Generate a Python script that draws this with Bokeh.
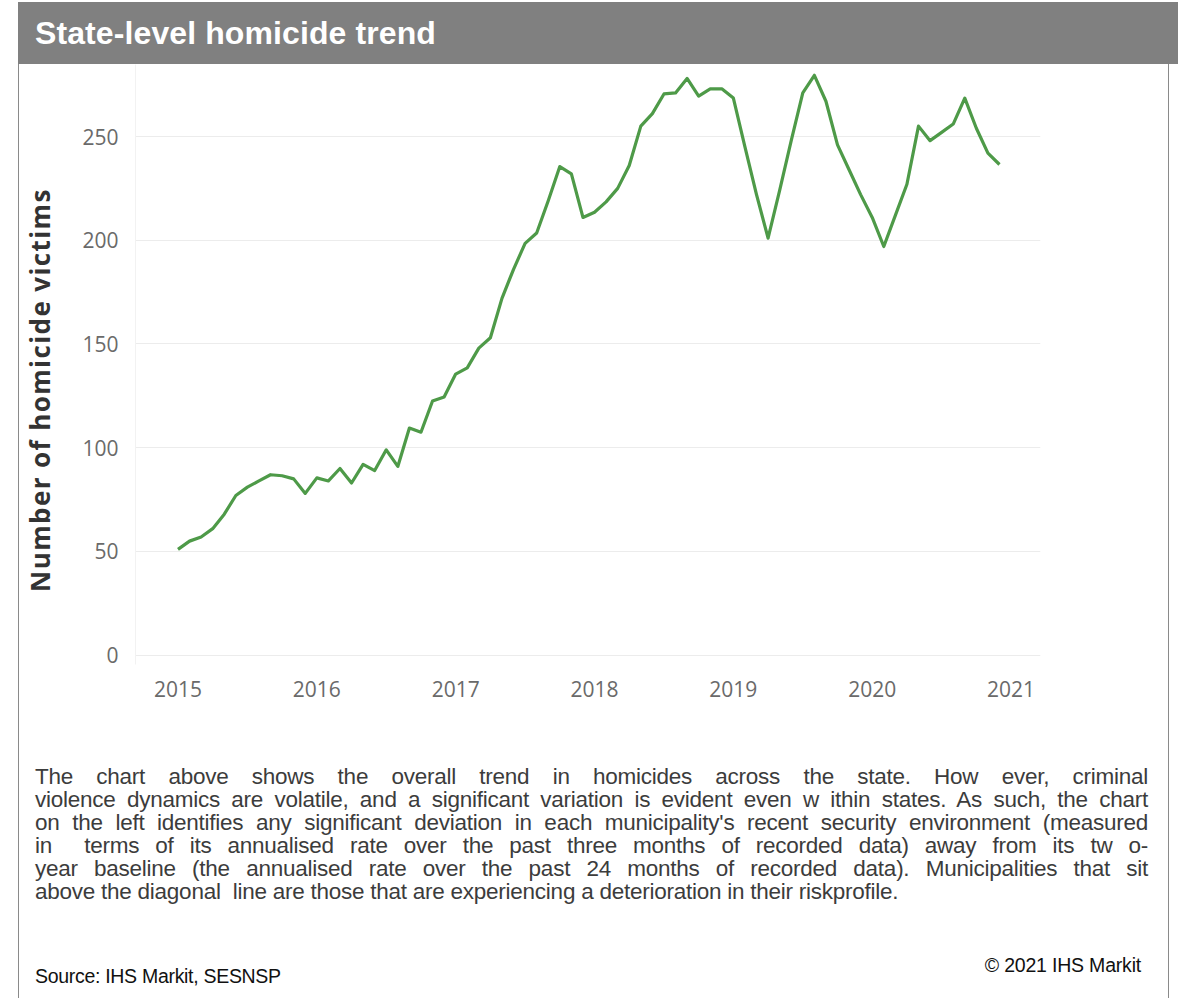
from bokeh.plotting import figure
from bokeh.models import Div, FixedTicker, Range1d
from bokeh.layouts import column, row
from bokeh.embed import file_html
from bokeh.resources import INLINE

# ---- data ----
title_text = "State-level homicide trend"
y_label = "Number of homicide victims"
year_ticks = [2015, 2016, 2017, 2018, 2019, 2020, 2021]
y_ticks = [0, 50, 100, 150, 200, 250]
month_index = list(range(72))  # monthly, Jan 2015 .. Dec 2020
victims = [
    51, 55, 57, 61, 68, 77, 81, 84, 87, 86.5, 85, 78,
    85.5, 84, 90, 83, 92, 89, 99, 91, 109.5, 107.5, 122.5, 124.5,
    135.5, 138.5, 148, 153, 172, 186, 198.5, 203.5, 219, 235.5, 232, 211,
    213.5, 218.5, 225, 236, 255, 261, 270.5, 271, 278, 269.5, 273, 273,
    268.5, 245, 222, 201, 224, 248, 271, 279.5, 267, 246, 234, 222,
    211, 197, 212, 227, 255, 248, 252, 256, 268.5, 254, 242, 236.5,
]
paragraph_lines = [
    "The chart above shows the overall trend in homicides across the state. How ever, criminal",
    "violence dynamics are volatile, and a significant variation is evident even w ithin states. As such, the chart",
    "on the left identifies any significant deviation in each municipality's recent security environment (measured",
    "in &nbsp;terms of its annualised rate over the past three months of recorded data) away from its tw o-",
    "year baseline (the annualised rate over the past 24 months of recorded data). Municipalities that sit",
    "above the diagonal &nbsp;line are those that are experiencing a deterioration in their riskprofile.",
]
source_text = "Source: IHS Markit, SESNSP"
copyright_text = "\u00a9 2021 IHS Markit"

x = [year_ticks[0] + m / 12 for m in month_index]

SANS = "'Liberation Sans',Arial,sans-serif"

header = Div(
    text=('<div style="width:1160px;height:62px;background:#808080;color:#ffffff;'
          'font-family:%s;font-weight:bold;font-size:32px;letter-spacing:0.1px;'
          'line-height:62px;padding-left:17px;box-sizing:border-box;white-space:nowrap;">%s</div>')
    % (SANS, title_text),
    width=1160, height=62, margin=0,
)

FIG_H = 676
LAB_W = 60
# y-axis title as a rotated text block to the left of the figure
ylab = Div(
    text=('<div style="position:relative;width:%dpx;height:%dpx;">'
          '<div style="position:absolute;left:21px;top:326px;transform:translate(-50%%,-50%%) rotate(-90deg);'
          'white-space:nowrap;font-family:\'Open Sans\',sans-serif;font-weight:bold;font-size:26px;'
          'letter-spacing:1.4px;color:#333333;line-height:30px;">%s</div></div>') % (LAB_W, FIG_H, y_label),
    width=LAB_W, height=FIG_H, margin=0,
)

X0, X1 = 2014.694, 2021.212
Y0, Y1 = -4.46, 284.7
p = figure(
    width=1151 - LAB_W, height=FIG_H,
    x_range=Range1d(X0, X1), y_range=Range1d(Y0, Y1),
    output_backend="svg", toolbar_location=None,
    min_border_left=115 - LAB_W, min_border_right=130, min_border_top=0, min_border_bottom=76,
    margin=0,
)
p.outline_line_color = None
p.background_fill_color = "white"
p.border_fill_color = None

p.line(x, victims, line_color="#4e9a48", line_width=3.2, line_join="round")

p.xaxis.ticker = FixedTicker(ticks=year_ticks)
p.yaxis.ticker = FixedTicker(ticks=y_ticks)
p.xgrid.grid_line_color = None
p.ygrid.grid_line_color = "#ececec"
p.ygrid.grid_line_width = 1

for ax in (p.xaxis[0], p.yaxis[0]):
    ax.major_tick_line_color = None
    ax.minor_tick_line_color = None
    ax.major_label_text_font = "Open Sans"
    ax.major_label_text_color = "#6a6a6a"
    ax.major_label_text_font_size = "21px"
p.xaxis.axis_line_color = None
p.yaxis.axis_line_color = "#f2f2f2"
p.xaxis.major_label_standoff = 10
p.yaxis.major_label_standoff = 11

line_html = "".join(
    '<div style="text-align:justify;text-align-last:%s;height:23px;line-height:23px;">%s</div>'
    % ("justify" if i < len(paragraph_lines) - 1 else "left", t)
    for i, t in enumerate(paragraph_lines)
)
bottom = Div(
    text=(
        '<div style="position:relative;width:1151px;height:258px;font-family:%s;color:#3c3c3c;">'
        '<div style="position:absolute;left:16px;top:25px;width:1113px;font-size:22.5px;letter-spacing:-0.25px;">%s</div>'
        '<div style="position:absolute;left:16px;top:225px;font-size:19.5px;line-height:22px;color:#111;letter-spacing:-0.3px;white-space:nowrap;">%s</div>'
        '<div style="position:absolute;right:29px;top:214px;font-size:19.5px;line-height:22px;color:#111;letter-spacing:-0.2px;white-space:nowrap;">%s</div>'
        '</div>'
    ) % (SANS, line_html, source_text, copyright_text),
    width=1151, height=258, margin=0,
)

chart_row = row(ylab, p, spacing=0, margin=0)
body = column(
    chart_row, bottom, width=1151, spacing=0, margin=0,
    styles={"border-left": "1px solid #8a8a8a", "border-right": "1px solid #8a8a8a"},
)
root = column(header, body, margin=(2, 0, 0, 18), spacing=0)

with open("out.html", "w") as f:
    f.write(file_html(root, INLINE))
